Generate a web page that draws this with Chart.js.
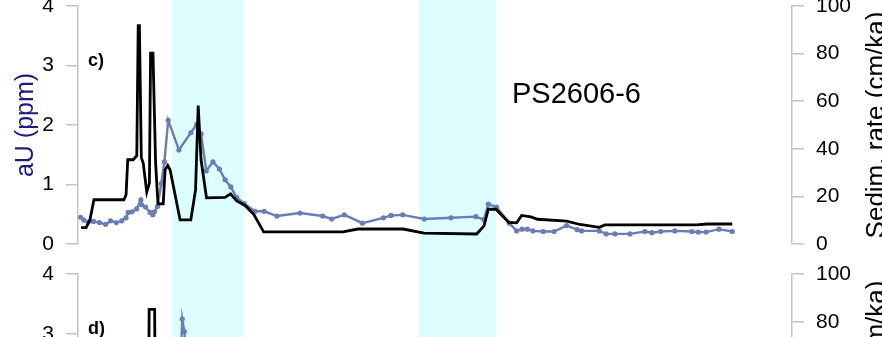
<!DOCTYPE html>
<html>
<head>
<meta charset="utf-8">
<script src="https://cdn.jsdelivr.net/npm/chart.js@4.4.1/dist/chart.umd.min.js"></script>
<style>
  html, body { margin: 0; padding: 0; background: #fff; overflow: hidden; width: 882px; height: 337px; }
  canvas { position: absolute; left: 0; }
  #panelC { top: 0; }
  #panelD { top: 259px; }
</style>
</head>
<body>
<canvas id="panelC" width="882" height="259"></canvas>
<canvas id="panelD" width="882" height="270"></canvas>
<script>
// Shared age axis (ka) and shaded cold intervals
const AGE_MIN = 0;
const AGE_MAX = 300;
const coldStages = [[39.6, 69.6], [143.4, 175.6]];

// Axis ticks
const uTicks = [0, 1, 2, 3, 4];
const srTicks = [0, 20, 40, 60, 80, 100];

// Panel c) PS2606-6 : authigenic uranium
const ageU_c = [1.1, 2.5, 4.3, 6.5, 9.0, 11.6, 13.7, 16.1, 18.4, 20.2, 21.1, 22.7, 24.6, 26.4, 26.7,
  28.4, 30.3, 31.4, 32.1, 33.4, 35.0, 36.3, 37.9, 42.4, 47.4, 49.9, 51.7, 53.9, 56.7, 59.4,
  61.8, 64.2, 66.7, 69.8, 74.4, 78.2, 83.6, 93.3, 102.8, 106.6, 111.9, 119.5, 128.3, 131.5, 136.4,
  145.5, 156.7, 167.2, 170.5, 172.4, 175.9, 181.2, 184.3, 186.6, 188.8, 191.1, 195.5, 200.0, 205.3, 209.7,
  211.6, 219.0, 221.9, 225.6, 231.9, 238.2, 241.1, 244.8, 250.8, 257.9, 260.6, 263.9, 269.3, 274.9];
const aU_c = [0.45, 0.40, 0.37, 0.38, 0.36, 0.33, 0.39, 0.36, 0.39, 0.44, 0.53, 0.54, 0.59, 0.74, 0.66,
  0.62, 0.53, 0.49, 0.54, 0.63, 1.02, 1.38, 2.08, 1.58, 1.87, 2.01, 1.85, 1.23, 1.38, 1.26,
  1.08, 0.96, 0.78, 0.68, 0.55, 0.55, 0.47, 0.52, 0.47, 0.42, 0.49, 0.35, 0.44, 0.48, 0.49,
  0.42, 0.44, 0.46, 0.41, 0.67, 0.62, 0.35, 0.22, 0.25, 0.25, 0.22, 0.21, 0.21, 0.31, 0.24,
  0.22, 0.22, 0.17, 0.17, 0.17, 0.21, 0.19, 0.21, 0.22, 0.21, 0.20, 0.20, 0.25, 0.21];

// Panel c) PS2606-6 : sedimentation rate
const ageSR_c = [1.3, 3.4, 5.0, 6.7, 19.3, 20.2, 20.9, 23.2, 24.7, 25.3, 25.8, 26.6, 27.4, 28.9, 30.0,
  30.5, 31.5, 32.6, 33.6, 35.8, 36.6, 37.7, 38.7, 42.9, 47.4, 49.4, 50.5, 51.7, 54.0, 61.8,
  64.1, 66.7, 70.2, 73.9, 78.0, 111.3, 117.6, 136.6, 145.4, 167.5, 170.6, 172.4, 175.6, 181.0, 184.3,
  186.4, 190.3, 193.1, 205.3, 210.9, 219.0, 221.4, 260.0, 264.2, 274.9];
const sedRate_c = [6.9, 6.9, 10.1, 18.6, 18.6, 20.7, 35.4, 35.4, 37.1, 91.7, 91.7, 36.3, 34.0, 21.8, 25.6,
  80.2, 80.2, 34.2, 16.9, 16.9, 31.2, 33.0, 31.2, 10.1, 10.1, 22.8, 58.2, 35.4, 19.4, 19.6,
  21.1, 18.1, 16.2, 12.4, 5.1, 5.1, 6.3, 6.3, 4.6, 4.2, 7.6, 14.6, 14.6, 9.1, 8.9,
  12.0, 11.4, 10.4, 9.6, 8.2, 7.0, 8.0, 8.0, 8.4, 8.4];

// Panel d)
const ageU_d = [40.0, 43.0, 43.8, 44.7, 46.0];
const aU_d = [1.6, 2.4, 3.25, 3.04, 2.2];
const ageSR_d = [20.0, 29.6, 29.9, 32.2, 32.5, 40.0];
const sedRate_d = [38, 42, 85.3, 85.3, 42, 25];

const BAND_COLOR = '#dcfefe';
const U_COLOR = '#6a7db6';
const AXIS_GREY = '#c4c4c4';
const FONT = '"Liberation Sans", Arial, Helvetica, sans-serif';

const toPoints = (xs, ys) => xs.map((x, i) => ({ x, y: ys[i] }));

// Shaded intervals drawn behind everything, over the full canvas height
const bandPlugin = {
  id: 'coldBands',
  beforeDraw(chart) {
    const { ctx } = chart;
    const xs = chart.scales.x;
    ctx.save();
    ctx.fillStyle = BAND_COLOR;
    for (const [a, b] of coldStages) {
      const x0 = xs.getPixelForValue(a);
      const x1 = xs.getPixelForValue(b);
      ctx.fillRect(x0, 0, x1 - x0, chart.height);
    }
    ctx.restore();
  }
};

// Axis titles, panel letter and core name
const textPlugin = {
  id: 'panelText',
  afterDraw(chart, args, opts) {
    const { ctx, chartArea: a } = chart;
    const midY = (a.top + a.bottom) / 2;
    ctx.save();
    ctx.textBaseline = 'alphabetic';

    ctx.textAlign = 'center';
    ctx.font = '25px ' + FONT;
    ctx.fillStyle = '#1c1c7c';
    ctx.save();
    ctx.translate(33, midY);
    ctx.rotate(-Math.PI / 2);
    ctx.fillText('aU (ppm)', 0, 0);
    ctx.restore();

    ctx.font = '26px ' + FONT;
    ctx.fillStyle = '#000';
    ctx.save();
    ctx.translate(884, midY);
    ctx.rotate(-Math.PI / 2);
    ctx.fillText('Sedim. rate (cm/ka)', 0, 0);
    ctx.restore();

    ctx.textAlign = 'left';
    ctx.font = 'bold 18px ' + FONT;
    ctx.fillText(opts.label, 88, a.top + 60);

    if (opts.core) {
      ctx.font = '29px ' + FONT;
      ctx.fillText(opts.core, 512, a.top + 97);
    }
    ctx.restore();
  }
};

function yAxis(position, max, ticks, width) {
  return {
    type: 'linear',
    position,
    min: 0,
    max,
    afterBuildTicks: (s) => { s.ticks = ticks.map(v => ({ value: v })); },
    afterFit: (s) => { s.width = width; s.paddingTop = 0; s.paddingBottom = 0; },
    border: { display: true, color: AXIS_GREY, width: 1.5 },
    grid: { display: true, drawOnChartArea: false, drawTicks: true, tickLength: 12, color: AXIS_GREY, lineWidth: 1.5 },
    ticks: { color: '#000', padding: 12, font: { family: FONT, size: 21 }, autoSkip: false }
  };
}

function makePanel(id, uPts, srPts, label, core, padTop, padBottom) {
  return new Chart(document.getElementById(id), {
    type: 'line',
    data: {
      datasets: [
        {
          data: srPts,
          yAxisID: 'ySR',
          borderColor: '#000',
          borderWidth: 2.8,
          pointRadius: 0,
          tension: 0,
          order: 0
        },
        {
          data: uPts,
          yAxisID: 'yU',
          borderColor: U_COLOR,
          backgroundColor: U_COLOR,
          borderWidth: 2.4,
          pointRadius: 2.6,
          pointBorderWidth: 0,
          pointBackgroundColor: U_COLOR,
          tension: 0,
          order: 1
        }
      ]
    },
    options: {
      responsive: false,
      animation: false,
      events: [],
      layout: { padding: { top: padTop, bottom: padBottom, left: 0, right: 0 } },
      scales: {
        x: { type: 'linear', min: AGE_MIN, max: AGE_MAX, display: false },
        yU: yAxis('left', 4, uTicks, 78),
        ySR: yAxis('right', 100, srTicks, 90)
      },
      plugins: {
        legend: { display: false },
        tooltip: { enabled: false },
        panelText: { label, core }
      }
    },
    plugins: [bandPlugin, textPlugin]
  });
}

makePanel('panelC', toPoints(ageU_c, aU_c), toPoints(ageSR_c, sedRate_c), 'c)', 'PS2606-6', 6, 15);
makePanel('panelD', toPoints(ageU_d, aU_d), toPoints(ageSR_d, sedRate_d), 'd)', '', 15, 15);
</script>
</body>
</html>
